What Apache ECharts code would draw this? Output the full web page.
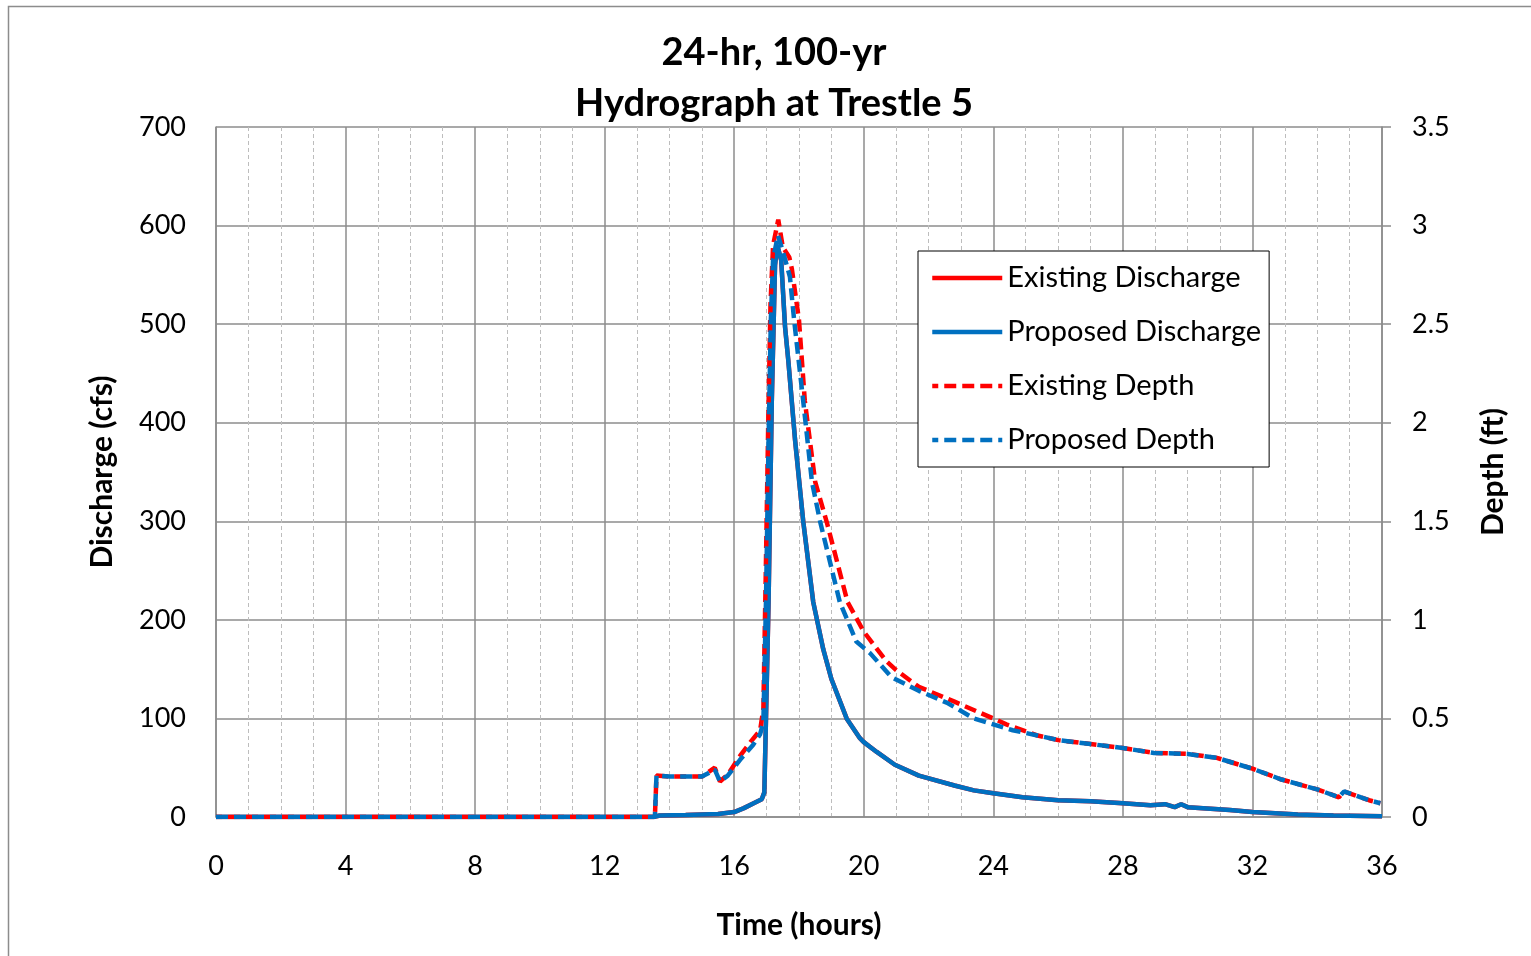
<!DOCTYPE html>
<html>
<head>
<meta charset="utf-8">
<script src="https://cdn.jsdelivr.net/npm/echarts@6/dist/echarts.min.js"></script>
<style>
html,body{margin:0;padding:0;background:#fff;}
#chart{width:1531px;height:956px;}
</style>
</head>
<body>
<div id="chart"></div>
<script>
// ---- Data ----
const xTicks = [0, 4, 8, 12, 16, 20, 24, 28, 32, 36];

const propDischargeT = [0, 13.5, 13.7, 14.5, 15.5, 16.0, 16.3, 16.6, 16.85, 16.93, 17.06, 17.16, 17.26, 17.33, 17.45, 17.57, 17.67, 17.88, 18.13, 18.44, 18.75, 19.0, 19.47, 19.88, 20.0, 20.4, 20.96, 21.7, 22.8, 23.4, 24.0, 24.9, 26.0, 27.0, 28.0, 28.85, 29.3, 29.6, 29.8, 30.0, 31.3, 32.0, 33.4, 34.5, 36.0];
const propDischargeQ = [0, 0, 1.5, 2, 3, 5, 9, 14, 18, 25, 218, 422, 560, 580, 565, 497, 463, 382, 300, 218, 170, 140, 100, 80, 76, 66, 53, 42, 32, 27, 24, 20, 17, 16, 14, 12, 13, 10, 13, 10, 7, 5, 2.5, 1.5, 0.7];

const existDischargeT = [0, 13.5, 13.7, 14.5, 15.5, 16.0, 16.3, 16.6, 16.85, 16.93, 17.06, 17.16, 17.26, 17.33, 17.45, 17.57, 17.67, 17.88, 18.13, 18.44, 18.75, 19.0, 19.47, 19.88, 20.0, 20.4, 20.96, 21.7, 22.8, 23.4, 24.0, 24.9, 26.0, 27.0, 28.0, 28.85, 29.3, 29.6, 29.8, 30.0, 31.3, 32.0, 33.4, 34.5, 36.0];
const existDischargeQ = [0, 0, 1.5, 2, 3, 5, 9, 14, 18, 25, 218, 422, 560, 580, 565, 497, 463, 382, 300, 218, 170, 140, 100, 80, 76, 66, 53, 42, 32, 27, 24, 20, 17, 16, 14, 12, 13, 10, 13, 10, 7, 5, 2.5, 1.5, 0.7];

const propDepthT = [0, 13.55, 13.6, 14.0, 15.0, 15.4, 15.56, 15.8, 16.18, 16.58, 16.8, 16.9, 16.98, 17.06, 17.13, 17.2, 17.35, 17.5, 17.72, 17.85, 18.13, 18.4, 18.65, 19.26, 19.77, 20.2, 20.85, 21.7, 22.56, 23.4, 24.0, 24.6, 25.33, 26.0, 27.0, 28.0, 28.96, 30.0, 30.9, 32.0, 32.9, 34.0, 34.67, 34.83, 35.6, 35.95];
const propDepthD = [0, 0, 0.21, 0.205, 0.205, 0.24, 0.18, 0.21, 0.29, 0.365, 0.42, 0.48, 1.09, 1.91, 2.52, 2.83, 2.95, 2.87, 2.74, 2.52, 2.11, 1.70, 1.50, 1.09, 0.89, 0.83, 0.71, 0.64, 0.58, 0.50, 0.47, 0.44, 0.415, 0.39, 0.37, 0.35, 0.325, 0.32, 0.30, 0.245, 0.19, 0.14, 0.10, 0.13, 0.085, 0.07];

const existDepthT = [0, 13.55, 13.6, 14.0, 15.0, 15.4, 15.56, 15.8, 16.18, 16.5, 16.8, 16.9, 16.97, 17.05, 17.12, 17.2, 17.36, 17.5, 17.7, 17.78, 18.0, 18.18, 18.5, 18.85, 19.5, 20.0, 20.7, 21.0, 21.7, 22.8, 24.0, 24.4, 25.33, 26.0, 27.0, 28.0, 28.96, 30.0, 30.9, 32.0, 32.9, 34.0, 34.67, 34.83, 35.6, 35.95];
const existDepthD = [0, 0, 0.21, 0.205, 0.205, 0.25, 0.18, 0.215, 0.31, 0.38, 0.44, 0.55, 1.2, 2.0, 2.6, 2.9, 3.03, 2.89, 2.84, 2.78, 2.52, 2.11, 1.70, 1.50, 1.09, 0.94, 0.79, 0.745, 0.66, 0.585, 0.50, 0.47, 0.415, 0.39, 0.37, 0.35, 0.325, 0.32, 0.30, 0.245, 0.19, 0.14, 0.10, 0.13, 0.085, 0.07];

function pairs(t, v) { return t.map((x, i) => [x, v[i]]); }

const FONT = 'Lato, "Open Sans", sans-serif';
const RED = '#FF0000';
const BLUE = '#0070C0';
const GRID = '#8c8c8c';
const LW = 4.5;

const chart = echarts.init(document.getElementById('chart'), null, {renderer: 'canvas'});
chart.setOption({
  backgroundColor: '#fff',
  animation: false,
  textStyle: {fontFamily: FONT, color: '#000'},
  title: {
    text: '24-hr, 100-yr\nHydrograph at Trestle 5',
    left: 769,
    top: 22,
    textAlign: 'center',
    textStyle: {fontFamily: FONT, fontSize: 38, fontWeight: 'bold', color: '#000', lineHeight: 51}
  },
  graphic: [{
    type: 'rect',
    shape: {x: 8.5, y: 6.5, width: 1560, height: 1000},
    style: {fill: 'none', stroke: '#8c8c8c', lineWidth: 1.5},
    silent: true,
    z: -10
  }],
  legend: {
    orient: 'vertical',
    left: 918,
    top: 251,
    padding: [11, 8, 11, 12],
    backgroundColor: '#fff',
    borderColor: '#000',
    borderWidth: 1,
    itemWidth: 70,
    itemHeight: 32,
    itemGap: 22,
    itemStyle: {opacity: 0},
    lineStyle: {width: LW},
    textStyle: {fontFamily: FONT, fontSize: 29, color: '#000', lineHeight: 32},
    data: ['Existing Discharge', 'Proposed Discharge', 'Existing Depth', 'Proposed Depth'],
    z: 10
  },
  grid: {left: 216, right: 149, top: 127, bottom: 139, containLabel: false},
  xAxis: {
    type: 'value',
    min: 0, max: 36, interval: 4,
    name: 'Time (hours)',
    nameLocation: 'middle',
    nameGap: 93,
    nameTextStyle: {fontFamily: FONT, fontSize: 30, fontWeight: 'bold', color: '#000'},
    axisLine: {show: true, lineStyle: {color: GRID, width: 1.5}},
    axisTick: {show: false},
    axisLabel: {margin: 36, fontFamily: FONT, fontSize: 27, color: '#000'},
    splitLine: {show: true, lineStyle: {color: GRID, width: 1.5}},
    minorTick: {show: false, splitNumber: 4},
    minorSplitLine: {show: true, lineStyle: {color: '#bdbdbd', width: 1, type: [4, 3]}}
  },
  yAxis: [{
    type: 'value',
    min: 0, max: 700, interval: 100,
    name: 'Discharge (cfs)',
    nameLocation: 'middle',
    nameGap: 99,
    nameTextStyle: {fontFamily: FONT, fontSize: 30, fontWeight: 'bold', color: '#000'},
    axisLine: {show: true, lineStyle: {color: GRID, width: 1.5}},
    axisTick: {show: false},
    axisLabel: {margin: 30, fontFamily: FONT, fontSize: 27, color: '#000'},
    splitLine: {show: true, lineStyle: {color: GRID, width: 1.5}}
  }, {
    type: 'value',
    position: 'right',
    min: 0, max: 3.5, interval: 0.5,
    name: 'Depth (ft)',
    nameLocation: 'middle',
    nameGap: 96,
    nameTextStyle: {fontFamily: FONT, fontSize: 30, fontWeight: 'bold', color: '#000'},
    axisLine: {show: true, lineStyle: {color: GRID, width: 1.5}},
    axisTick: {show: true, inside: false, length: 9, lineStyle: {color: GRID, width: 1.5}},
    axisLabel: {margin: 30, fontFamily: FONT, fontSize: 27, color: '#000'},
    splitLine: {show: false}
  }],
  series: [{
    name: 'Existing Discharge',
    type: 'line',
    yAxisIndex: 0,
    symbol: 'none',
    data: pairs(existDischargeT, existDischargeQ),
    lineStyle: {color: RED, width: LW},
    itemStyle: {color: RED},
    z: 2
  }, {
    name: 'Proposed Discharge',
    type: 'line',
    yAxisIndex: 0,
    symbol: 'none',
    data: pairs(propDischargeT, propDischargeQ),
    lineStyle: {color: BLUE, width: LW},
    itemStyle: {color: BLUE},
    z: 3
  }, {
    name: 'Existing Depth',
    type: 'line',
    yAxisIndex: 1,
    symbol: 'none',
    data: pairs(existDepthT, existDepthD),
    lineStyle: {color: RED, width: LW, type: [12, 6], dashOffset: 6},
    itemStyle: {color: RED},
    z: 4
  }, {
    name: 'Proposed Depth',
    type: 'line',
    yAxisIndex: 1,
    symbol: 'none',
    data: pairs(propDepthT, propDepthD),
    lineStyle: {color: BLUE, width: LW, type: [12, 6]},
    itemStyle: {color: BLUE},
    z: 5
  }]
});
</script>
</body>
</html>
